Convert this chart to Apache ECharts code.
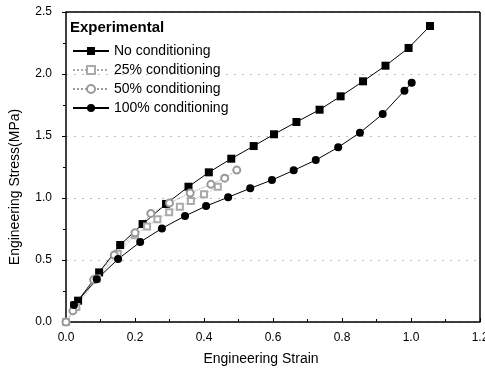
<!DOCTYPE html>
<html><head><meta charset="utf-8">
<script src="https://cdn.jsdelivr.net/npm/echarts@6/dist/echarts.min.js"></script>
<style>html,body{margin:0;padding:0;background:#fff}#c{width:485px;height:368px}</style>
</head><body><div id="c"></div>
<script>
const seriesNames = ['No conditioning','25% conditioning','50% conditioning','100% conditioning'];
const noCond = [[0.024,0.135],[0.035,0.172],[0.096,0.40],[0.157,0.621],[0.222,0.79],[0.290,0.952],[0.355,1.091],[0.414,1.207],[0.479,1.317],[0.544,1.419],[0.603,1.514],[0.668,1.613],[0.735,1.712],[0.796,1.82],[0.861,1.941],[0.926,2.067],[0.993,2.21],[1.055,2.387]];
const cond25 = [[0.0,0.0],[0.03,0.12],[0.09,0.35],[0.15,0.55],[0.20,0.70],[0.235,0.77],[0.265,0.828],[0.299,0.885],[0.330,0.93],[0.362,0.975],[0.40,1.03],[0.44,1.09]];
const cond50 = [[0.0,0.0],[0.02,0.09],[0.08,0.34],[0.14,0.54],[0.20,0.72],[0.246,0.876],[0.30,0.96],[0.36,1.04],[0.42,1.11],[0.46,1.16],[0.495,1.225]];
const cond100 = [[0.023,0.137],[0.089,0.344],[0.151,0.508],[0.215,0.645],[0.278,0.755],[0.345,0.855],[0.406,0.935],[0.47,1.006],[0.534,1.078],[0.597,1.145],[0.66,1.223],[0.724,1.306],[0.789,1.409],[0.852,1.527],[0.918,1.677],[0.981,1.865],[1.002,1.93]];
const legendTitle = 'Experimental';
const xName = 'Engineering Strain';
const yName = 'Engineering Stress(MPa)';

const chart = echarts.init(document.getElementById('c'));
const font = 'Liberation Sans, Arial, sans-serif';
chart.setOption({
  animation:false,
  backgroundColor:'#fff',
  textStyle:{fontFamily:font},
  grid:{left:66,right:5,top:12,bottom:46,containLabel:false,outerBoundsMode:'none'},
  graphic:[{type:'text',left:70,top:20,style:{text:legendTitle,font:'bold 15px '+font,fill:'#000'}}],
  legend:{orient:'vertical',left:67,top:39,itemWidth:36,itemHeight:10,itemGap:5,
    textStyle:{fontSize:14,color:'#000',fontFamily:font},data:seriesNames},
  xAxis:{type:'value',min:0,max:1.2,interval:0.2,name:xName,nameLocation:'middle',nameGap:30,
    nameTextStyle:{fontSize:14,color:'#000',padding:[0,24,0,0]},
    axisLine:{show:true,lineStyle:{color:'#000',width:1.5}},
    axisTick:{show:true,inside:true,length:4,lineStyle:{color:'#000'}},
    minorTick:{show:true,splitNumber:2,length:3,lineStyle:{color:'#000'}},
    axisLabel:{fontSize:12,color:'#000',margin:10,formatter:v=>v.toFixed(1)},
    splitLine:{show:false}},
  yAxis:{type:'value',min:0,max:2.5,interval:0.5,name:yName,nameLocation:'middle',nameGap:44,
    nameTextStyle:{fontSize:14,color:'#000',padding:[0,40,0,0]},
    axisLine:{show:true,lineStyle:{color:'#000',width:1.5}},
    axisTick:{show:true,length:4,lineStyle:{color:'#000'}},
    minorTick:{show:true,splitNumber:2,length:3,lineStyle:{color:'#000'}},
    axisLabel:{fontSize:12,color:'#000',margin:14,formatter:v=>v.toFixed(1)},
    splitLine:{show:true,lineStyle:{color:'#bbb',type:[2,6],width:1}}},
  series:[
    {name:seriesNames[0],type:'line',data:noCond,symbol:'rect',symbolSize:8,
     itemStyle:{color:'#000'},lineStyle:{color:'#000',width:1}},
    {name:seriesNames[1],type:'line',data:cond25,symbol:'emptyRect',symbolSize:6,
     itemStyle:{color:'#aaa',borderColor:'#aaa'},lineStyle:{color:'#aaa',width:1,type:'dotted'}},
    {name:seriesNames[2],type:'line',data:cond50,symbol:'emptyCircle',symbolSize:7,
     itemStyle:{color:'#999',borderColor:'#999'},lineStyle:{color:'#999',width:1,type:'dotted'}},
    {name:seriesNames[3],type:'line',data:cond100,symbol:'circle',symbolSize:8,
     itemStyle:{color:'#000'},lineStyle:{color:'#000',width:1}},
    {type:'line',data:[],markLine:{silent:true,symbol:'none',label:{show:false},
      lineStyle:{color:'#000',type:'solid',width:1.5},
      data:[[{coord:[0,2.5]},{coord:[1.2,2.5]}],[{coord:[1.2,0]},{coord:[1.2,2.5]}]]}}
  ]
});
</script></body></html>
